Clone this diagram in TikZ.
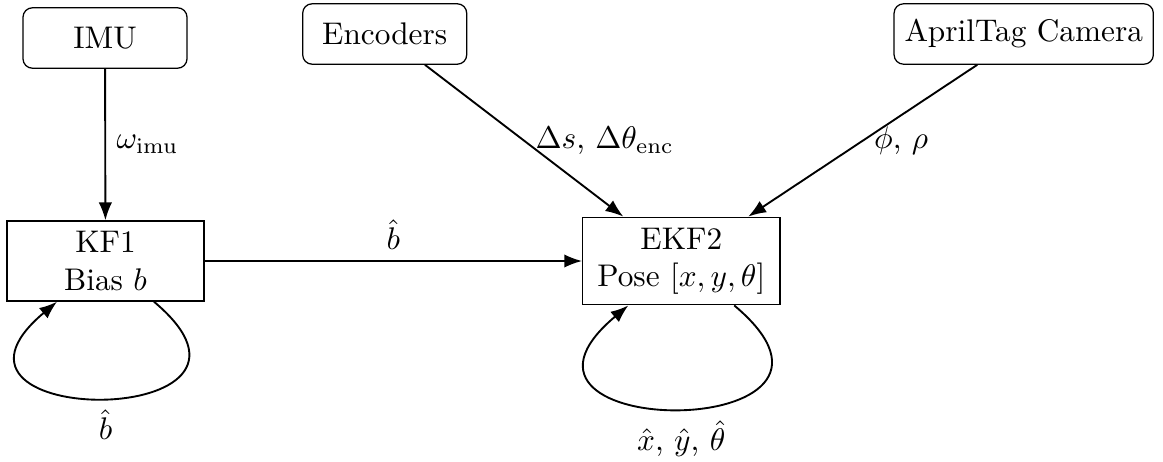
\documentclass[tikz,border=0pt]{standalone}
\usetikzlibrary{arrows.meta}
\begin{document}
\begin{tikzpicture}[x=0.3195pt,y=0.3195pt,
  sensor/.style={draw,thin,rounded corners=3pt,minimum width=52.4pt,minimum height=19.3pt,inner sep=3.33pt},
  filter/.style={draw,thin,align=center,minimum width=63pt,inner sep=3.33pt},
  arr/.style={semithick,-{Latex}},
  lbl/.style={inner sep=3.33pt}]
\useasboundingbox (0,0) rectangle (1163,-461);

% sources
\node[sensor] (imu) at (105,-38) {IMU};
\node[sensor] (enc) at (384.7,-34) {Encoders};
\node[sensor] (cam) at (1023.7,-34) {AprilTag Camera};

% filters
\node[filter] (kf1) at (105.5,-261) {KF1\\Bias $b$};
\node[filter] (ekf) at (681.3,-261) {EKF2\\Pose $[x,y,\theta]$};

% measurements
\draw[arr] (imu) -- node[lbl,right] {$\omega_{\mathrm{imu}}$} (kf1);
\draw[arr] (enc) -- node[lbl,right] {$\Delta s$, $\Delta\theta_{\mathrm{enc}}$} (ekf);
\draw[arr] (cam) -- node[lbl,right] {$\phi$, $\rho$} (ekf);
\draw[arr] (kf1) -- node[lbl,above] {$\hat b$} (ekf);

% state feedback loops
\draw[arr] (kf1) to[out=-40,in=-140,looseness=5.3] node[lbl,below] {$\hat b$} (kf1);
\draw[arr] (ekf) to[out=-40,in=-140,looseness=5.2] node[lbl,below] {$\hat x$, $\hat y$, $\hat\theta$} (ekf);
\end{tikzpicture}
\end{document}
